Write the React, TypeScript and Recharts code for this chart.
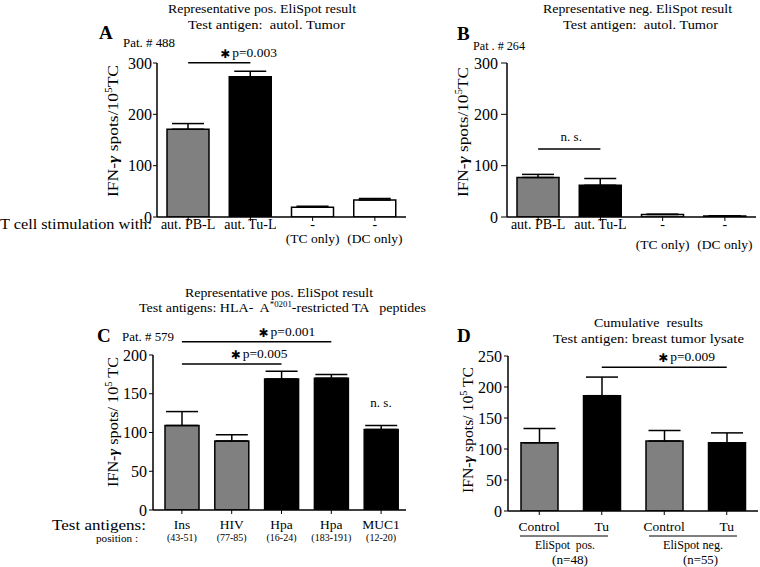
import React from 'react';
import { BarChart, Bar, XAxis, YAxis, ErrorBar, Cell, ReferenceLine } from 'recharts';

const SERIF = '"Liberation Serif", "Times New Roman", serif';
const GRAY = '#808080';

// A: representative positive EliSpot, autologous tumor
const catsA = ['PB-L', 'Tu-L', 'TC', 'DC'];
const tickLabelsA = [['aut. PB-L'], ['aut. Tu-L'], ['-', '(TC only)'], ['-', '(DC only)']];
const valsA = [171, 273, 19, 33];
const errsA = [11, 11, 2, 3];
const fillsA = [GRAY, '#000', '#fff', '#fff'];
const yTicksA = [0, 100, 200, 300];

// B: representative negative EliSpot
const catsB = ['PB-L', 'Tu-L', 'TC', 'DC'];
const tickLabelsB = [['aut. PB-L'], ['aut. Tu-L'], ['-', '(TC only)'], ['-', '(DC only)']];
const valsB = [77, 62, 5, 2];
const errsB = [6, 13, 0.5, 0.5];
const fillsB = [GRAY, '#000', '#fff', '#fff'];
const yTicksB = [0, 100, 200, 300];

// C: HLA-A*0201 restricted peptides
const catsC = ['Ins', 'HIV', 'Hpa16', 'Hpa183', 'MUC1'];
const tickLabelsC = [['Ins', '(43-51)'], ['HIV', '(77-85)'], ['Hpa', '(16-24)'], ['Hpa', '(183-191)'], ['MUC1', '(12-20)']];
const valsC = [109, 89, 169, 170, 104];
const errsC = [18, 8, 10, 5, 5];
const fillsC = [GRAY, GRAY, '#000', '#000', '#000'];
const yTicksC = [0, 50, 100, 150, 200];

// D: cumulative results
const catsD = ['posControl', 'posTu', 'negControl', 'negTu'];
const tickLabelsD = [['Control'], ['Tu'], ['Control'], ['Tu']];
const valsD = [110, 186, 113, 110];
const errsD = [23, 30, 17, 16];
const fillsD = [GRAY, '#000', GRAY, '#000'];
const yTicksD = [0, 50, 100, 150, 200, 250];

const rows = (cats: string[], vals: number[], errs: number[]) =>
  cats.map((c, i) => ({ cat: c, v: vals[i], e: [0, errs[i]] }));

function SigLabel({ viewBox, text, dx = 0, star = true }: any) {
  if (!viewBox) return null;
  const cx = viewBox.x + viewBox.width / 2 + dx;
  const y = viewBox.y - 6;
  if (!star) {
    return (
      <text x={cx} y={y - 2} textAnchor="middle" fontFamily={SERIF} fontSize={13} fill="#000">
        {text}
      </text>
    );
  }
  return (
    <g>
      <text x={cx} y={y + 1} fontFamily="DejaVu Sans" fontSize={12} fill="#000">✱</text>
      <text x={cx + 12} y={y} fontFamily={SERIF} fontSize={13.5} fill="#000">{text}</text>
    </g>
  );
}

const makeTick = (labels: string[][], mainSize: number, subSize: number, mainDy: number, subDy: number) =>
  (props: any) => {
    const { x, y, index } = props;
    const idx = index ?? props.payload?.index ?? 0;
    const [main, sub] = labels[idx] || [];
    return (
      <g>
        <text x={x} y={y + mainDy} textAnchor="middle" fontFamily={SERIF} fontSize={mainSize} fill="#000">{main}</text>
        {sub && (
          <text x={x} y={y + subDy} textAnchor="middle" fontFamily={SERIF} fontSize={subSize} fill="#000">{sub}</text>
        )}
      </g>
    );
  };

type Sig = { from: string; to: string; y: number; text: string; dx?: number; star?: boolean };

function Panel(props: {
  left: number; top: number; width: number; height: number;
  margin: { top: number; right: number; bottom: number; left: number };
  yWidth: number; xHeight: number; padLeft?: number; barSize: number;
  data: any[]; fills: string[]; domain: [number, number]; ticks: number[];
  tick: (p: any) => React.ReactElement; sigs: Sig[]; yTickSize: number; yTickMargin: number;
}) {
  const p = props;
  return (
    <div style={{ position: 'absolute', left: p.left, top: p.top }}>
      <BarChart width={p.width} height={p.height} data={p.data} margin={p.margin}>
        <XAxis
          dataKey="cat"
          height={p.xHeight}
          padding={{ left: p.padLeft || 0, right: 0 }}
          axisLine={{ stroke: '#000', strokeWidth: 1.5 }}
          tickLine={{ stroke: '#000', strokeWidth: 1 }}
          tickSize={4}
          tickMargin={2}
          interval={0}
          tick={p.tick}
        />
        <YAxis
          width={p.yWidth}
          domain={p.domain}
          ticks={p.ticks}
          allowDataOverflow
          axisLine={{ stroke: '#000', strokeWidth: 1.5 }}
          tickLine={{ stroke: '#000', strokeWidth: 1 }}
          tickSize={p.yTickSize}
          tickMargin={p.yTickMargin}
          tick={{ fill: '#000', fontSize: 16, fontFamily: SERIF }}
        />
        <Bar dataKey="v" barSize={p.barSize} stroke="#000" strokeWidth={1.5} isAnimationActive={false}>
          {p.data.map((d, i) => (
            <Cell key={d.cat} fill={p.fills[i]} />
          ))}
          <ErrorBar dataKey="e" width={16} stroke="#000" strokeWidth={1.5} direction="y" isAnimationActive={false} />
        </Bar>
        {p.sigs.map((s) => (
          <ReferenceLine
            key={s.text + s.from}
            segment={[{ x: s.from, y: s.y }, { x: s.to, y: s.y }]}
            stroke="#000"
            strokeWidth={1.5}
            ifOverflow="visible"
            label={(lp: any) => <SigLabel viewBox={lp.viewBox} text={s.text} dx={s.dx} star={s.star !== false} />}
          />
        ))}
      </BarChart>
    </div>
  );
}

function YLabel({ cx, cy, len, gap = '' }: { cx: number; cy: number; len: number; gap?: string }) {
  return (
    <text
      transform={`translate(${cx},${cy}) rotate(-90)`}
      textAnchor="middle"
      fontFamily={SERIF}
      fontSize={15.5}
      fill="#000"
      textLength={len}
      lengthAdjust="spacingAndGlyphs"
    >
      <tspan dy={5}>IFN-</tspan>
      <tspan fontWeight="bold" fontStyle="italic">γ</tspan>
      <tspan> spots/{gap}10</tspan>
      <tspan dy={-6} fontSize={10}>5</tspan>
      <tspan dy={6}>{gap ? ' TC' : 'TC'}</tspan>
    </text>
  );
}

function T(props: any) {
  const { w, size = 13.5, children, ...rest } = props;
  return (
    <text fontFamily={SERIF} fill="#000" fontSize={size} xmlSpace="preserve" textLength={w} lengthAdjust="spacingAndGlyphs" {...rest}>
      {children}
    </text>
  );
}

export default function App() {
  return (
    <div style={{ position: 'absolute', left: 0, top: 0, width: 760, height: 567, background: '#fff', overflow: 'hidden' }}>
      <Panel
        left={0} top={0} width={410} height={280}
        margin={{ top: 63, right: 4, bottom: 13, left: 0 }}
        yWidth={157} xHeight={50} barSize={42}
        data={rows(catsA, valsA, errsA)} fills={fillsA} domain={[0, 300]} ticks={yTicksA} yTickSize={4} yTickMargin={1}
        tick={makeTick(tickLabelsA, 14, 13.5, 6, 20)}
        sigs={[{ from: 'PB-L', to: 'Tu-L', y: 300.5, text: 'p=0.003', dx: 1 }]}
      />
      <Panel
        left={380} top={0} width={380} height={280}
        margin={{ top: 63, right: 4, bottom: 13, left: 0 }}
        yWidth={127} xHeight={50} barSize={42}
        data={rows(catsB, valsB, errsB)} fills={fillsB} domain={[0, 300]} ticks={yTicksB} yTickSize={6} yTickMargin={3}
        tick={makeTick(tickLabelsB, 14, 13.5, 6, 26)}
        sigs={[{ from: 'PB-L', to: 'Tu-L', y: 132.5, text: 'n. s.', dx: 2, star: false }]}
      />
      <Panel
        left={0} top={280} width={410} height={287}
        margin={{ top: 75, right: 4, bottom: 12, left: 0 }}
        yWidth={153} xHeight={45} padLeft={4} barSize={34}
        data={rows(catsC, valsC, errsC)} fills={fillsC} domain={[0, 200]} ticks={yTicksC} yTickSize={4} yTickMargin={2}
        tick={makeTick(tickLabelsC, 13.5, 10, 13, 25)}
        sigs={[
          { from: 'Ins', to: 'Hpa183', y: 217, text: 'p=0.001', dx: 2 },
          { from: 'Ins', to: 'Hpa16', y: 188.5, text: 'p=0.005', dx: -1 },
        ]}
      />
      <Panel
        left={380} top={280} width={380} height={287}
        margin={{ top: 76, right: 2, bottom: 11, left: 0 }}
        yWidth={128} xHeight={45} barSize={37}
        data={rows(catsD, valsD, errsD)} fills={fillsD} domain={[0, 250]} ticks={yTicksD} yTickSize={4} yTickMargin={2}
        tick={makeTick(tickLabelsD, 13.5, 13.5, 14, 14)}
        sigs={[{ from: 'posTu', to: 'negTu', y: 232, text: 'p=0.009', dx: -6 }]}
      />
      <svg width={760} height={567} style={{ position: 'absolute', left: 0, top: 0, pointerEvents: 'none' }}>
        {/* A */}
        <T x={168} y={13} w={188}>Representative pos. EliSpot result</T>
        <T x={188} y={29} w={157}>Test antigen:  autol. Tumor</T>
        <T x={99} y={39} size={19} fontWeight="bold">A</T>
        <T x={123} y={47} size={12} w={52}>Pat. # 488</T>
        <YLabel cx={113} cy={131} len={132} />
        <T x={0} y={229} size={15.5} w={152}>T cell stimulation with:</T>
        {/* B */}
        <T x={543} y={13} w={189}>Representative neg. EliSpot result</T>
        <T x={563} y={29} w={155}>Test antigen:  autol. Tumor</T>
        <T x={457} y={40} size={19} fontWeight="bold">B</T>
        <T x={473} y={50} size={12} w={52}>Pat . # 264</T>
        <YLabel cx={463} cy={132} len={130} />
        {/* C */}
        <T x={185} y={297} w={188}>Representative pos. EliSpot result</T>
        <text
          x={139} y={312} fontFamily={SERIF} fill="#000" fontSize={13.5} xmlSpace="preserve"
          textLength={287} lengthAdjust="spacingAndGlyphs"
        >
          Test antigens: HLA-  A<tspan dy={-5} fontSize={8.5}>*0201</tspan><tspan dy={5}>-restricted TA   peptides</tspan>
        </text>
        <T x={97} y={342} size={19} fontWeight="bold">C</T>
        <T x={122} y={341} size={12} w={52}>Pat. # 579</T>
        <T x={381} y={407} size={13} textAnchor="middle">n. s.</T>
        <YLabel cx={113} cy={422} len={130} gap=" " />
        <T x={52} y={530} size={15.5} w={94}>Test antigens:</T>
        <T x={96} y={542} size={11} w={42}>position :</T>
        {/* D */}
        <T x={594} y={327} w={109}>Cumulative  results</T>
        <T x={553} y={343} w={191}>Test antigen: breast tumor lysate</T>
        <T x={457} y={342} size={19} fontWeight="bold">D</T>
        <YLabel cx={468} cy={430} len={126} gap=" " />
        <line x1={520} x2={608} y1={536} y2={536} stroke="#000" strokeWidth={1} />
        <line x1={649} x2={737} y1={536} y2={536} stroke="#000" strokeWidth={1} />
        <T x={535} y={549} size={12} w={60}>EliSpot  pos.</T>
        <T x={552} y={564} size={12} w={36}>(n=48)</T>
        <T x={663} y={549} size={12} w={60}>EliSpot neg.</T>
        <T x={683} y={564} size={12} w={35}>(n=55)</T>
      </svg>
    </div>
  );
}
